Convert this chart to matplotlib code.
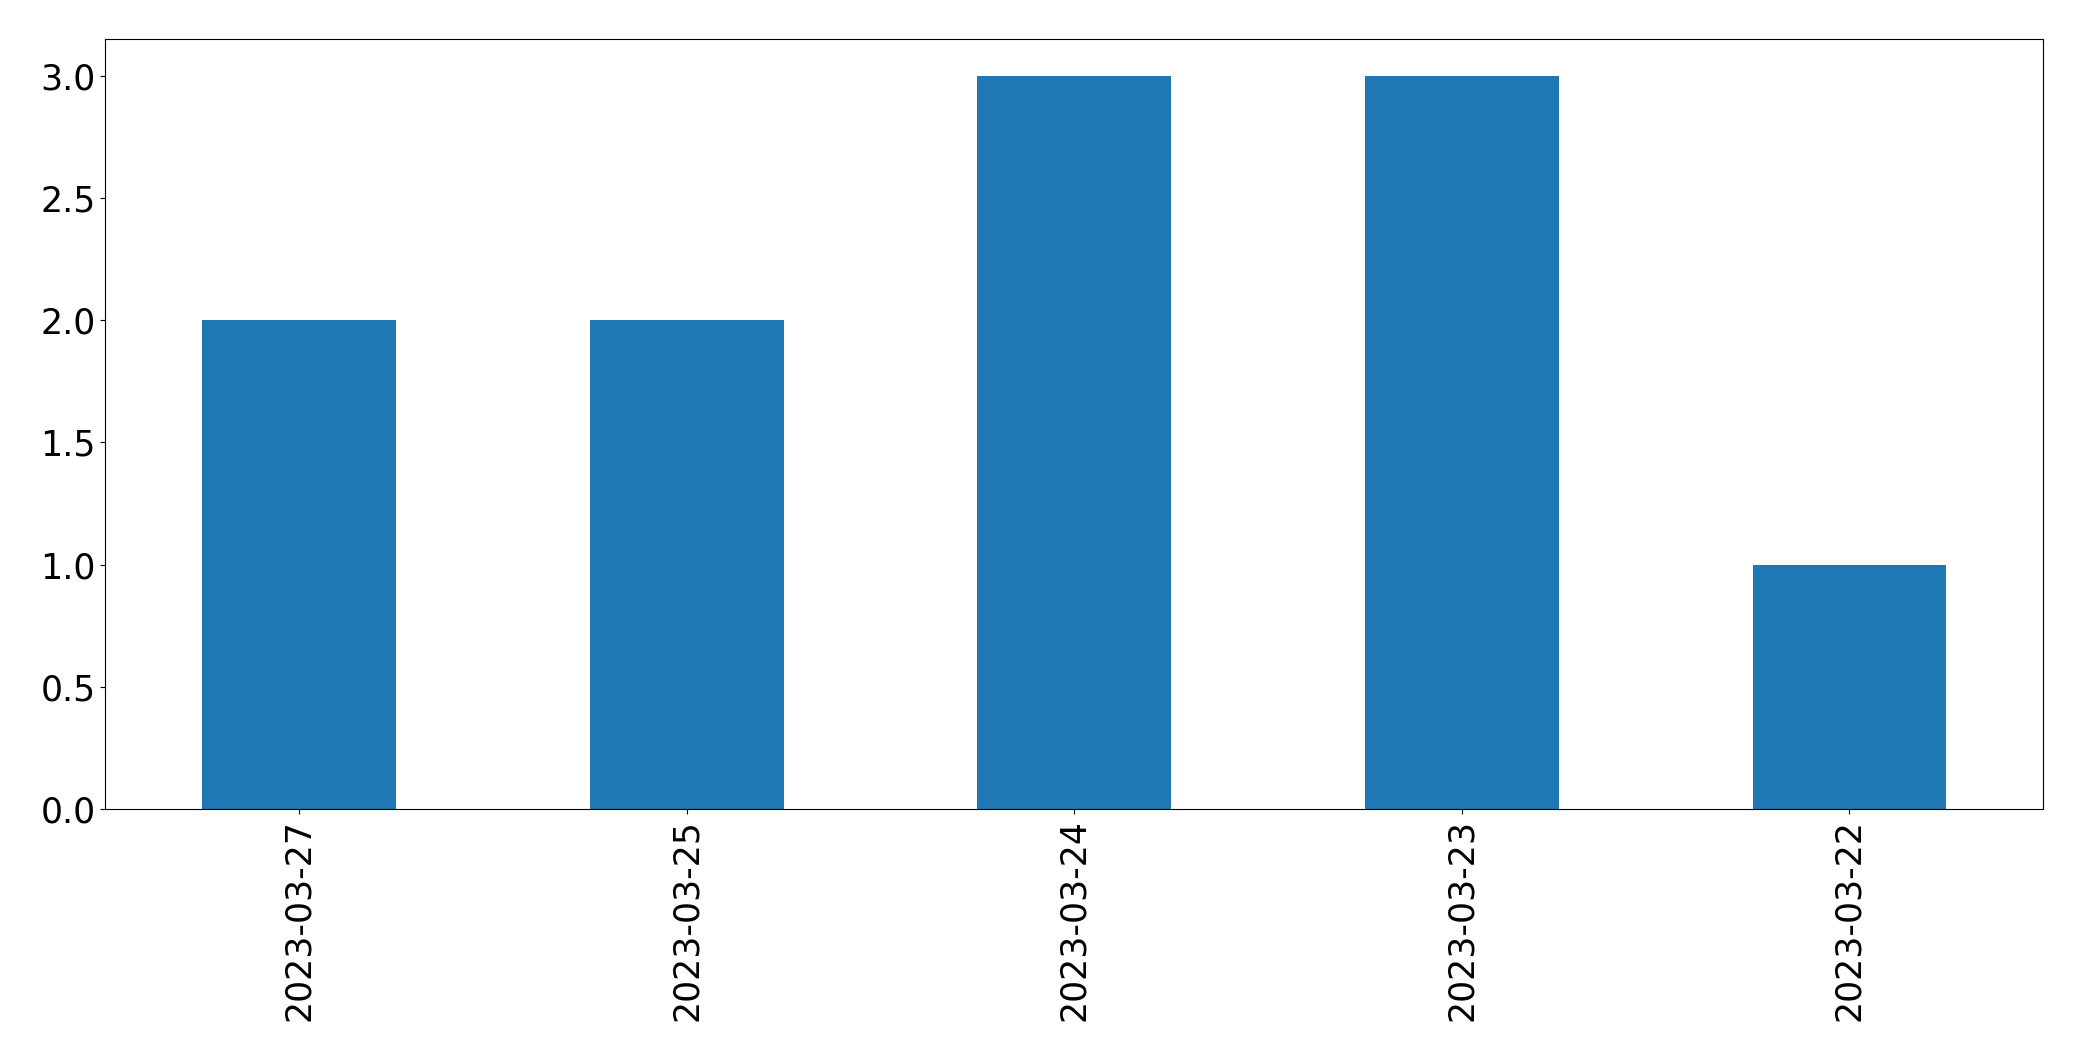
import matplotlib
matplotlib.use("Agg")
import matplotlib.pyplot as plt
import pandas as pd

dates = ["2023-03-27", "2023-03-25", "2023-03-24", "2023-03-23", "2023-03-22"]
counts = [2, 2, 3, 3, 1]

series = pd.Series(counts, index=dates)

fig = plt.figure(figsize=(20.82, 10.61), dpi=100)
ax = fig.add_axes([0.0506, 0.2375, 0.9308, 0.7257])
series.plot(kind="bar", ax=ax, fontsize=25)

fig.savefig("out.png", dpi=100)
